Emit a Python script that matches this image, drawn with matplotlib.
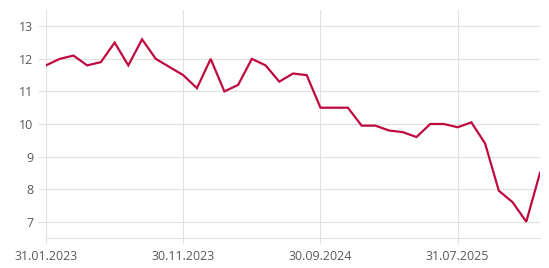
import matplotlib
matplotlib.use("Agg")
import matplotlib.pyplot as plt

# monthly values, 31.01.2023 .. 31.01.2026
values = [11.8, 12.0, 12.1, 11.8, 11.9, 12.5, 11.8, 12.6, 12.0, 11.75,
          11.5, 11.1, 12.0, 11.0, 11.2, 12.0, 11.8, 11.3, 11.55, 11.5,
          10.5, 10.5, 10.5, 9.95, 9.95, 9.8, 9.75, 9.6, 10.0, 10.0,
          9.9, 10.05, 9.4, 7.95, 7.6, 7.0, 8.5]
tick_pos = [0, 10, 20, 30]
tick_labels = ['31.01.2023', '30.11.2023', '30.09.2024', '31.07.2025']
y_ticks = [7, 8, 9, 10, 11, 12, 13]

plt.rcParams['font.family'] = ['Open Sans', 'DejaVu Sans']

fig = plt.figure(figsize=(5.49, 2.68), dpi=100)
ax = fig.add_axes([46 / 549, 30 / 268, 494 / 549, 228 / 268])

grid_c = '#e2e2e2'
text_c = '#5a5a5a'

ax.plot(range(len(values)), values, color='#c0093f', lw=1.6, zorder=3,
        solid_joinstyle='miter')

ax.set_xlim(0, len(values) - 1)
ax.set_ylim(6.5, 13.5)
ax.set_xticks(tick_pos)
ax.set_xticklabels(tick_labels)
ax.set_yticks(y_ticks)

ax.grid(True, color=grid_c, lw=0.8)
for s in ['top', 'right', 'left']:
    ax.spines[s].set_visible(False)
ax.spines['bottom'].set_color(grid_c)
ax.spines['bottom'].set_linewidth(0.8)

ax.tick_params(axis='x', length=4, color=grid_c, width=0.8, pad=5,
               labelsize=9, labelcolor=text_c)
ax.tick_params(axis='y', length=6, color=grid_c, width=0.8, pad=3,
               labelsize=9, labelcolor=text_c)

fig.savefig('out.png', dpi=100)
